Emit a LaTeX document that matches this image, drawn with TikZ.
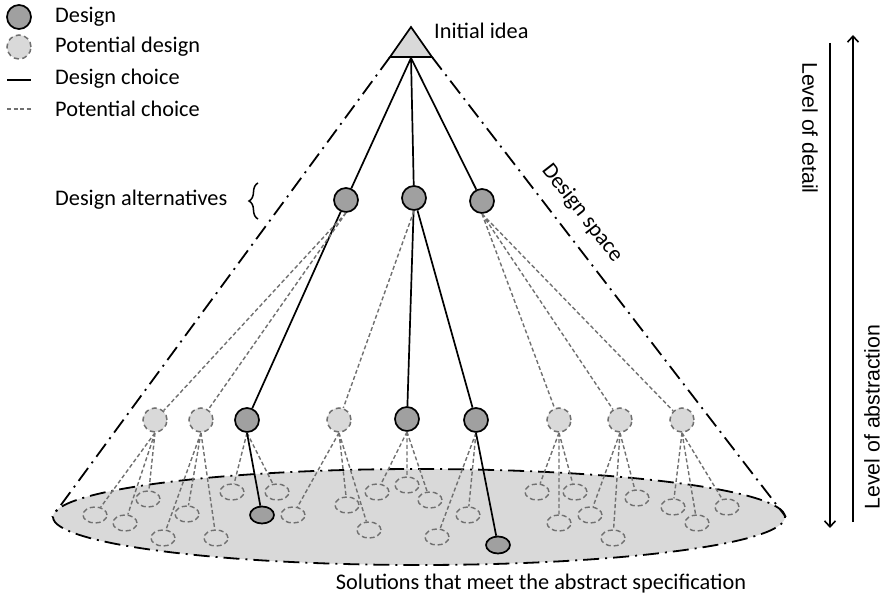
\documentclass[tikz,border=0pt]{standalone}
\usepackage{fontspec}
\setmainfont{Carlito}
\newfontfamily\arialfont{Liberation Sans}
\usetikzlibrary{shapes.geometric,arrows.meta,decorations.pathreplacing}
\definecolor{designgray}{RGB}{160,160,160}
\definecolor{potgray}{RGB}{217,217,217}
\definecolor{linegray}{RGB}{112,112,112}

\begin{document}
\begin{tikzpicture}[x=1pt, y=-1pt,
		font=\fontsize{22.3}{26}\selectfont,
		design/.style={circle, draw, line width=1.7pt, fill=designgray, minimum size=24pt, inner sep=0pt},
		potential/.style={circle, draw=linegray, line width=1.5pt, dash pattern=on 5pt off 3.5pt, fill=potgray, minimum size=24pt, inner sep=0pt},
		leaf/.style={ellipse, draw=linegray, line width=1.4pt, dash pattern=on 5pt off 3pt, minimum width=24pt, minimum height=16pt, inner sep=0pt},
		leafdesign/.style={ellipse, draw, line width=1.7pt, fill=designgray, minimum width=24pt, minimum height=17pt, inner sep=0pt},
		choice/.style={line width=1.7pt},
		pchoice/.style={draw=linegray, line width=1.4pt, dash pattern=on 4pt off 2.5pt},
		cone/.style={line width=1.8pt, dash pattern=on 16pt off 6pt on 2pt off 6pt},
		level/.style={line width=1.6pt, -{Straight Barb[length=6pt,width=11pt]}},
		label/.style={anchor=west, inner sep=0pt}]
		\useasboundingbox (0,0) rectangle (884,601);
		% solution space and cone
		\node[ellipse, draw, cone, fill=potgray, minimum width=732pt, minimum height=96pt, inner sep=0pt] (sol) at (419,517) {};
		\coordinate (ideaL) at (390,57);
		\coordinate (ideaR) at (432,57);
		\coordinate (ideaTop) at (411,27);
		\coordinate (idea) at (411,58);
		\draw[cone] (ideaL) -- (sol.west);
		\draw[cone] (ideaR) -- (sol.east);
		\draw[line width=1.7pt, fill=potgray] (ideaL) -- (ideaTop) -- (ideaR) -- cycle;
		% legend
		\node[design] (keyDesign) at (19,17) {};
		\node[potential] (keyPot) at (19,47) {};
		\coordinate (keyA) at (7,80);
		\coordinate (keyB) at (31,80);
		\coordinate (keyC) at (7,109);
		\coordinate (keyD) at (31,109);
		\draw[choice] (keyA) -- (keyB);
		\draw[pchoice] (keyC) -- (keyD);
		\node[label] (keyDesignText) at (55,17) {Design};
		\node[label] (keyPotText) at (55,47) {Potential design};
		\node[label] (keyChoiceText) at (55,79) {Design choice};
		\node[label] (keyPChoiceText) at (55,109) {Potential choice};
		% design alternatives
		\node[design] (a1) at (346,200) {};
		\node[design] (a2) at (414,198) {};
		\node[design] (a3) at (482,201) {};
		\draw[choice] (idea) -- (a1);
		\draw[choice] (idea) -- (a2);
		\draw[choice] (idea) -- (a3);
		% second level
		\node[potential] (b1) at (155,420) {};
		\node[potential] (b2) at (201,420) {};
		\node[design] (b3) at (247,420) {};
		\node[potential] (b4) at (339,420) {};
		\node[design] (b5) at (407,419) {};
		\node[design] (b6) at (476,420) {};
		\node[potential] (b7) at (559,420) {};
		\node[potential] (b8) at (620,420) {};
		\node[potential] (b9) at (682,420) {};
		\draw[choice] (a1) -- (b3);
		\draw[choice] (a2) -- (b5);
		\draw[choice] (a2) -- (b6);
		\draw[pchoice] (a1.south) -- (b1) (a1.south) -- (b2);
		\draw[pchoice] (a2.south) -- (b4);
		\draw[pchoice] (a3.south) -- (b7) (a3.south) -- (b8) (a3.south) -- (b9);
		% solutions
		\node[leaf] (c1) at (95,515) {};
		\node[leaf] (c2) at (125,523) {};
		\node[leaf] (c3) at (148,499) {};
		\node[leaf] (c4) at (163,538) {};
		\node[leaf] (c5) at (187,514) {};
		\node[leaf] (c6) at (216,538) {};
		\node[leaf] (c7) at (232,492) {};
		\node[leaf] (c8) at (277,492) {};
		\node[leafdesign] (s1) at (262,515) {};
		\node[leaf] (c9) at (293,515) {};
		\node[leaf] (c10) at (347,505) {};
		\node[leaf] (c11) at (369,530) {};
		\node[leaf] (c12) at (377,492) {};
		\node[leaf] (c13) at (407,485) {};
		\node[leaf] (c14) at (430,500) {};
		\node[leaf] (c15) at (437,537) {};
		\node[leaf] (c16) at (468,515) {};
		\node[leafdesign] (s2) at (498,545) {};
		\node[leaf] (c17) at (537,492) {};
		\node[leaf] (c18) at (575,492) {};
		\node[leaf] (c19) at (559,523) {};
		\node[leaf] (c20) at (590,515) {};
		\node[leaf] (c21) at (637,498) {};
		\node[leaf] (c22) at (613,538) {};
		\node[leaf] (c23) at (673,507) {};
		\node[leaf] (c24) at (697,523) {};
		\node[leaf] (c25) at (727,507) {};
		\draw[pchoice] (b1.south) -- (c1) (b1.south) -- (c2) (b1.south) -- (c3);
		\draw[pchoice] (b2.south) -- (c4) (b2.south) -- (c5) (b2.south) -- (c6);
		\draw[pchoice] (b3.south) -- (c7) (b3.south) -- (c8);
		\draw[pchoice] (b4.south) -- (c9) (b4.south) -- (c10) (b4.south) -- (c11);
		\draw[pchoice] (b5.south) -- (c12) (b5.south) -- (c13) (b5.south) -- (c14);
		\draw[pchoice] (b6.south) -- (c15) (b6.south) -- (c16);
		\draw[pchoice] (b7.south) -- (c17) (b7.south) -- (c18) (b7.south) -- (c19);
		\draw[pchoice] (b8.south) -- (c20) (b8.south) -- (c21) (b8.south) -- (c22);
		\draw[pchoice] (b9.south) -- (c23) (b9.south) -- (c24) (b9.south) -- (c25);
		\draw[choice] (b3.south) -- (s1);
		\draw[choice] (b6.south) -- (s2);
		% labels
		\node[label] (ideaText) at (434,31) {Initial idea};
		\node[label] (altText) at (55,200) {Design alternatives};
		\draw[decorate, decoration={brace, amplitude=9pt}, line width=1.5pt] (258,219) -- (258,183);
		\node[rotate=-52] (spaceText) at (582,213) {Design space};
		\node (solText) at (541,584) {Solutions that meet the abstract specification};
		% levels
		\coordinate (absTop) at (830,43);
		\coordinate (absBot) at (830,528);
		\coordinate (detTop) at (853,35);
		\coordinate (detBot) at (853,522);
		\draw[level] (absTop) -- (absBot);
		\draw[level] (detBot) -- (detTop);
		\node[font=\arialfont\fontsize{21.3}{25}\selectfont, rotate=-90] (detailText) at (810,128) {Level of detail};
		\node[font=\arialfont\fontsize{21.3}{25}\selectfont, rotate=90] (abstrText) at (872,417) {Level of abstraction};
	\end{tikzpicture}
\end{document}
